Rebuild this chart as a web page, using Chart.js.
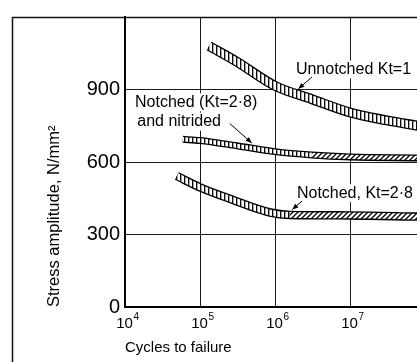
<!DOCTYPE html>
<html>
<head>
<meta charset="utf-8">
<script src="https://cdn.jsdelivr.net/npm/chart.js@4.4.1/dist/chart.umd.min.js"></script>
<style>
html,body{margin:0;padding:0;background:#fff;}
#wrap{width:417px;height:362px;position:relative;}
</style>
</head>
<body>
<div id="wrap"><canvas id="snChart"></canvas></div>
<script>
'use strict';
// S-N curves: cycles to failure (log) vs stress amplitude, N/mm2
var unnotchedX = [1.32e5, 3.1e5, 1e6, 3.1e6, 1e7, 3.1e7, 8e7];
var unnotchedY = [1080, 1015, 915, 860, 805, 772, 750];
var nitridedX  = [5.9e4, 1e5, 3.1e5, 1e6, 3.1e6, 1e7, 8e7];
var nitridedY  = [694, 689, 667, 643, 629, 621, 617];
var notchedX   = [4.9e4, 1e5, 2.76e5, 8.6e5, 1.58e6, 1e7, 8e7];
var notchedY   = [542, 495, 443, 391, 381, 379, 374];
var xTicks   = [1e4, 1e5, 1e6, 1e7];
var xTickExp = ['4', '5', '6', '7'];
var yTicks   = [0, 300, 600, 900];

var FONT = '"Liberation Sans", Arial, Helvetica, sans-serif';

// curve labels and leader arrows, in data units
var notes = [
    { text: 'Unnotched Kt=1',   x: 1.9e6,  y: 983 },
    { text: 'Notched (Kt=2·8)', x: 1.36e4, y: 847 },
    { text: 'and nitrided',     x: 1.46e4, y: 767 },
    { text: 'Notched, Kt=2·8',  x: 1.96e6, y: 471 }
];
var leaders = [
    { x1: 3.1e6, y1: 951, x2: 2.05e6, y2: 903 },
    { x1: 2.5e5, y1: 759, x2: 4.9e5,  y2: 679 },
    { x1: 2.3e6, y1: 439, x2: 1.7e6,  y2: 403 }
];

function pts(xs, ys) {
    return xs.map(function(x, i) { return { x: x, y: ys[i] }; });
}

var canvas = document.getElementById('snChart');
var ctx0 = canvas.getContext('2d');

function hatch(kind, size) {
    var c = document.createElement('canvas');
    c.width = size; c.height = size;
    var g = c.getContext('2d');
    g.fillStyle = '#fff';
    g.fillRect(0, 0, size, size);
    g.strokeStyle = '#000';
    g.lineWidth = 1.3;
    g.beginPath();
    if (kind === 'v') {
        g.moveTo(0.7, 0); g.lineTo(0.7, size);
    } else {
        g.moveTo(-1, size + 1); g.lineTo(size + 1, -1);
        g.moveTo(size - 1, size + 1); g.lineTo(size + 1, size - 1);
        g.moveTo(-1, 1); g.lineTo(1, -1);
    }
    g.stroke();
    return ctx0.createPattern(c, 'repeat');
}
var patV = hatch('v', 4);
var patS = hatch('s', 5);

function splitPattern(c) {
    return c.p0.parsed.x < 1.1e6 ? patV : patS;
}

function band(data, w, inner, seg) {
    var common = { data: data, pointRadius: 0, cubicInterpolationMode: 'monotone', borderCapStyle: 'butt', borderJoinStyle: 'round', fill: false };
    var outline = Object.assign({}, common, { borderColor: '#000', borderWidth: w, order: 1 });
    var fillIn = Object.assign({}, common, { borderColor: patV, borderWidth: inner, order: 0 });
    if (seg) fillIn.segment = { borderColor: splitPattern };
    return [outline, fillIn];
}

var labelPlugin = {
    id: 'labels',
    beforeDraw: function(chart) {
        var c = chart.ctx;
        c.save();
        c.fillStyle = '#fff';
        c.fillRect(0, 0, chart.width, chart.height);
        c.restore();
    },
    beforeDatasetsDraw: function(chart) {
        var c = chart.ctx, xs = chart.scales.x, ys = chart.scales.y;
        c.save();
        c.font = '16px ' + FONT;
        c.textAlign = 'left';
        c.textBaseline = 'middle';
        notes.forEach(function(n) {
            var px = xs.getPixelForValue(n.x), py = ys.getPixelForValue(n.y);
            var w = c.measureText(n.text).width;
            c.fillStyle = '#fff';
            c.fillRect(px - 3, py - 9, w + 6, 18);
            c.fillStyle = '#000';
            c.fillText(n.text, px, py);
        });
        c.restore();
    },
    afterDraw: function(chart) {
        var c = chart.ctx, xs = chart.scales.x, ys = chart.scales.y, a = chart.chartArea;
        c.save();
        // figure frame, left and top edges
        c.strokeStyle = '#111';
        c.lineWidth = 1.5;
        c.beginPath();
        c.moveTo(12.5, chart.height);
        c.lineTo(12.5, a.top + 0.5);
        c.lineTo(chart.width, a.top + 0.5);
        c.stroke();

        // x tick labels 10^n
        c.fillStyle = '#000';
        c.textBaseline = 'alphabetic';
        xTicks.forEach(function(v, i) {
            var px = xs.getPixelForValue(v);
            c.font = '15px ' + FONT;
            c.textAlign = 'center';
            c.fillText('10', px - 0.5, a.bottom + 21);
            c.font = '10px ' + FONT;
            c.textAlign = 'left';
            c.fillText(xTickExp[i], px + 8.5, a.bottom + 13);
        });

        // leader arrows
        c.strokeStyle = '#000';
        c.lineWidth = 1;
        leaders.forEach(function(l) {
            var x1 = xs.getPixelForValue(l.x1), y1 = ys.getPixelForValue(l.y1);
            var x2 = xs.getPixelForValue(l.x2), y2 = ys.getPixelForValue(l.y2);
            c.beginPath(); c.moveTo(x1, y1); c.lineTo(x2, y2); c.stroke();
            var ang = Math.atan2(y2 - y1, x2 - x1), L = 6, W = 2.5;
            c.beginPath();
            c.moveTo(x2, y2);
            c.lineTo(x2 - L * Math.cos(ang) + W * Math.sin(ang), y2 - L * Math.sin(ang) - W * Math.cos(ang));
            c.lineTo(x2 - L * Math.cos(ang) - W * Math.sin(ang), y2 - L * Math.sin(ang) + W * Math.cos(ang));
            c.closePath();
            c.fill();
        });
        c.restore();
    }
};

var datasets = []
    .concat(band(pts(unnotchedX, unnotchedY), 10, 7.4, false))
    .concat(band(pts(nitridedX, nitridedY), 7, 4.4, true))
    .concat(band(pts(notchedX, notchedY), 8.5, 5.9, true));

new Chart(canvas, {
    type: 'line',
    data: { datasets: datasets },
    options: {
        responsive: true,
        maintainAspectRatio: false,
        animation: false,
        devicePixelRatio: 1,
        layout: { padding: { top: 8, right: 0, bottom: 0, left: 0 } },
        plugins: { legend: { display: false }, tooltip: { enabled: false } },
        scales: {
            x: {
                type: 'logarithmic',
                min: 1e4,
                max: 7.82e7,
                afterBuildTicks: function(s) { s.ticks = xTicks.map(function(v) { return { value: v }; }); },
                afterFit: function(s) { s.height = 55; },
                ticks: { display: false },
                grid: { color: '#1a1a1a', lineWidth: 1, drawTicks: false },
                border: { color: '#000', width: 2 },
                title: { display: true, text: 'Cycles to failure', align: 'start', color: '#000', font: { family: FONT, size: 15 }, padding: { top: 0, bottom: 5 } }
            },
            y: {
                type: 'linear',
                min: 0,
                max: 1200,
                afterBuildTicks: function(s) { s.ticks = yTicks.map(function(v) { return { value: v }; }); },
                afterFit: function(s) { s.width = 125; },
                ticks: { color: '#000', padding: 5, font: { family: FONT, size: 20 } },
                grid: { color: '#1a1a1a', lineWidth: 1, drawTicks: false },
                border: { color: '#000', width: 2 },
                title: { display: true, text: 'Stress amplitude, N/mm²', align: 'start', color: '#000', font: { family: FONT, size: 16.5 }, padding: { top: 45, bottom: 0 } }
            }
        }
    },
    plugins: [labelPlugin]
});
</script>
</body>
</html>
